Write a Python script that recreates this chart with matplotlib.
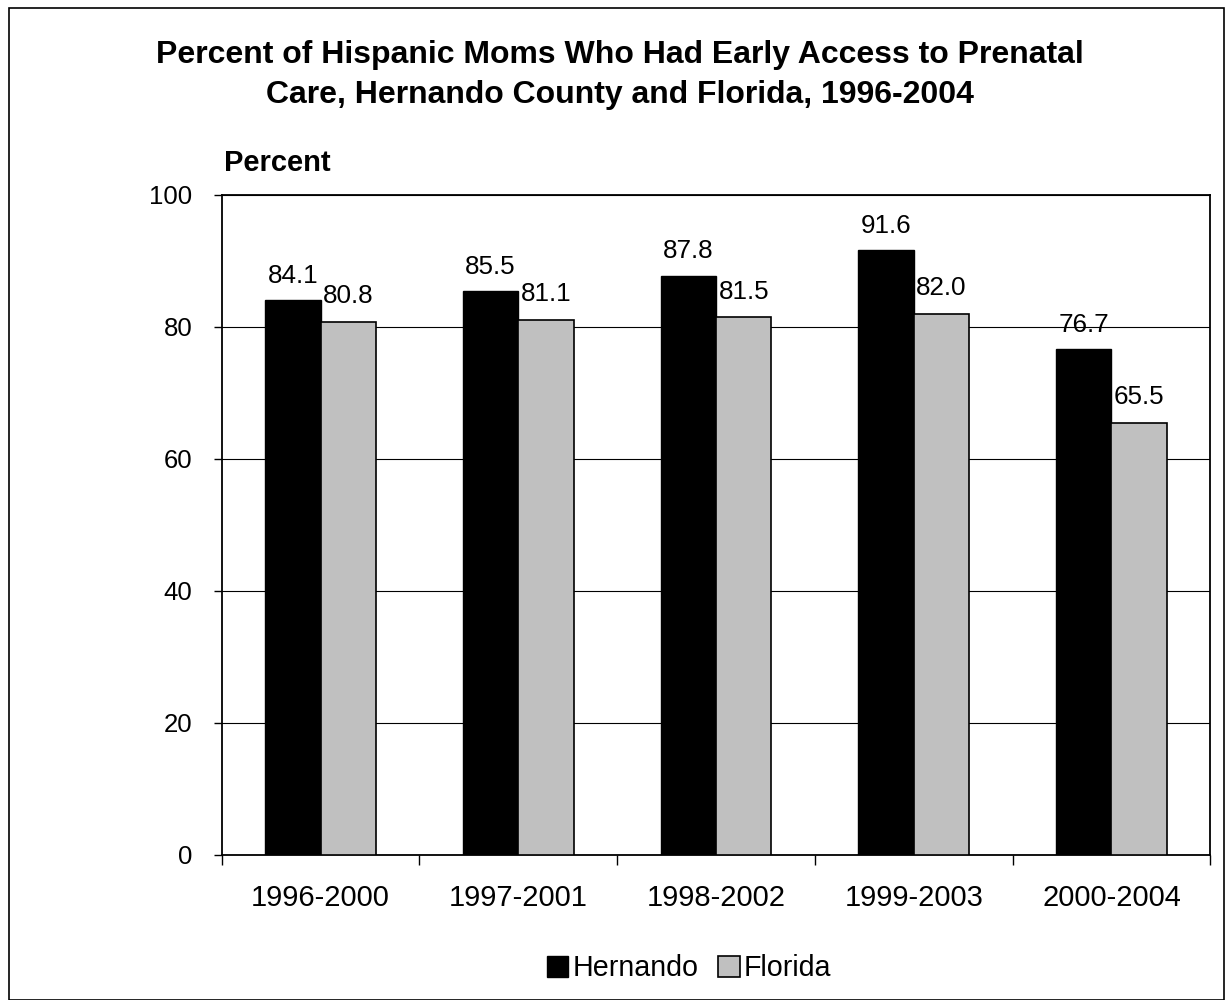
import matplotlib
matplotlib.use("Agg")
import matplotlib.pyplot as plt
import numpy as np
from matplotlib.patches import Rectangle

plt.rcParams['font.family'] = ['Liberation Sans', 'DejaVu Sans']

categories = ["1996-2000", "1997-2001", "1998-2002", "1999-2003", "2000-2004"]
hernando = [84.1, 85.5, 87.8, 91.6, 76.7]
florida = [80.8, 81.1, 81.5, 82.0, 65.5]
yticks = [0, 20, 40, 60, 80, 100]

fig = plt.figure(figsize=(12.25, 10), dpi=100)
ax = fig.add_axes([0.181, 0.145, 0.807, 0.660])

x = np.arange(len(categories))
w = 0.28
ax.bar(x - w/2, hernando, w, color='black', edgecolor='black', linewidth=1, label='Hernando', zorder=3)
ax.bar(x + w/2, florida, w, color='#c0c0c0', edgecolor='black', linewidth=1.2, label='Florida', zorder=3)

for i in range(len(categories)):
    ax.text(x[i] - w/2, hernando[i] + 2.6, f"{hernando[i]:.1f}", ha='center', va='baseline', fontsize=18.7)
    ax.text(x[i] + w/2, florida[i] + 2.8, f"{florida[i]:.1f}", ha='center', va='baseline', fontsize=18.7)

ax.set_xlim(-0.5, len(categories) - 0.5)
ax.set_ylim(0, 100)
ax.set_yticks(yticks)
ax.set_yticklabels([str(v) for v in yticks], fontsize=18.5)
ax.yaxis.grid(True, color='black', linewidth=0.8, zorder=0)
ax.set_axisbelow(True)
ax.set_xticks(x)
ax.set_xticklabels(categories, fontsize=21)
ax.tick_params(axis='x', length=0, pad=21)
ax.set_xticks(np.arange(-0.5, len(categories)), minor=True)
ax.tick_params(axis='x', which='minor', length=7, direction='out', width=1)
ax.tick_params(axis='y', length=6, direction='out', pad=15, width=1)
for s in ax.spines.values():
    s.set_linewidth(1.3)

fig.text(0.506, 0.945, "Percent of Hispanic Moms Who Had Early Access to Prenatal", ha='center', va='center',
         fontsize=23, fontweight='bold')
fig.text(0.506, 0.905, "Care, Hernando County and Florida, 1996-2004", ha='center', va='center',
         fontsize=23, fontweight='bold')
fig.text(0.183, 0.837, "Percent", ha='left', va='center', fontsize=21, fontweight='bold')

leg = fig.legend(loc='center', bbox_to_anchor=(0.5625, 0.032), ncol=2, frameon=False, fontsize=20.6,
                 handlelength=0.75, handleheight=0.75, handletextpad=0.15, columnspacing=0.7)

fig.patches.append(Rectangle((0.007, 0.0), 0.992, 0.992, transform=fig.transFigure, fill=False,
                             edgecolor='black', linewidth=1.2))

fig.savefig("out.png", dpi=100)
